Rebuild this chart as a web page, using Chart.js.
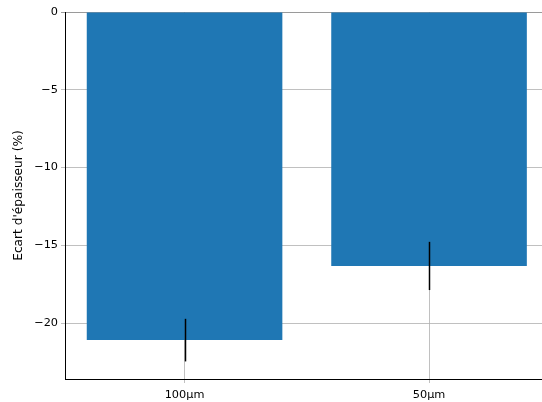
<!DOCTYPE html>
<html>
<head>
<meta charset="utf-8">
<script src="https://cdn.jsdelivr.net/npm/chart.js@4/dist/chart.umd.min.js"></script>
<style>
html,body{margin:0;padding:0;background:#fff;overflow:hidden;}
#wrap{width:542px;height:402px;position:relative;}
</style>
</head>
<body>
<div id="wrap"><canvas id="c" width="542" height="402"></canvas></div>
<script>
const categories = ["100\u03bcm", "50\u03bcm"];
const positions = [0, 1];
const meanValues = [-21.1, -16.33];
const errValues = [1.37, 1.55];
const yTicks = [0, -5, -10, -15, -20];

const FONT = "'DejaVu Sans', sans-serif";

const errorBarPlugin = {
  id: 'errorBars',
  afterDatasetsDraw(chart) {
    const ctx = chart.ctx;
    const xs = chart.scales.x, ys = chart.scales.y;
    ctx.save();
    ctx.strokeStyle = '#000';
    ctx.lineWidth = 1.5;
    meanValues.forEach((v, i) => {
      const px = Math.round(xs.getPixelForValue(positions[i])) + 0.5;
      ctx.beginPath();
      ctx.moveTo(px, ys.getPixelForValue(v + errValues[i]));
      ctx.lineTo(px, ys.getPixelForValue(v - errValues[i]));
      ctx.stroke();
    });
    ctx.restore();
  }
};

new Chart(document.getElementById('c'), {
  type: 'bar',
  data: {
    datasets: [{
      data: positions.map((p, i) => ({x: p, y: meanValues[i]})),
      backgroundColor: '#1f77b4',
      borderWidth: 0,
      categoryPercentage: 1.0,
      barPercentage: 0.8
    }]
  },
  options: {
    responsive: false,
    animation: false,
    devicePixelRatio: 1,
    layout: {padding: {top: 12, right: 0, left: 0, bottom: 0}},
    plugins: {legend: {display: false}, tooltip: {enabled: false}},
    scales: {
      x: {
        type: 'linear',
        offset: false,
        min: -0.489,
        max: 1.462,
        afterBuildTicks(scale) { scale.ticks = positions.map(v => ({value: v})); },
        afterFit(scale) { scale.height = 23; },
        ticks: {
          autoSkip: false,
          maxRotation: 0,
          padding: 5,
          color: '#000',
          font: {family: FONT, size: 11.3},
          callback: (v) => categories[positions.indexOf(v)] ?? ''
        },
        grid: {offset: false, color: '#b0b0b0', lineWidth: 0.8, tickLength: 4, tickColor: '#b0b0b0'},
        border: {color: '#000', width: 1}
      },
      y: {
        type: 'linear',
        min: -23.6,
        max: 0,
        afterBuildTicks(scale) { scale.ticks = yTicks.map(v => ({value: v})); },
        afterFit(scale) { scale.width = 65; },
        ticks: {
          padding: 3,
          color: '#000',
          font: {family: FONT, size: 11.3},
          callback: (v) => v < 0 ? '\u2212' + Math.abs(v) : String(v)
        },
        title: {
          display: true,
          text: "Ecart d'\u00e9paisseur (%)",
          color: '#000',
          font: {family: FONT, size: 12.2},
          padding: {top: 11.7, bottom: 0}
        },
        grid: {
          color: (c) => c.tick && c.tick.value === 0 ? '#808080' : '#b0b0b0',
          lineWidth: 0.8,
          tickLength: 4,
          tickColor: (c) => c.tick && c.tick.value === 0 ? '#808080' : '#b0b0b0'
        },
        border: {color: '#000', width: 1}
      }
    }
  },
  plugins: [errorBarPlugin]
});
</script>
</body>
</html>
